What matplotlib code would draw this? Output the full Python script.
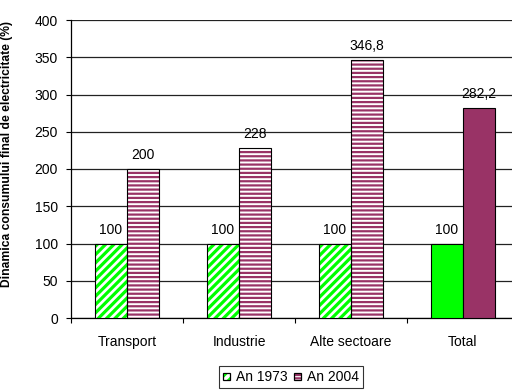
import matplotlib
matplotlib.use("Agg")
import matplotlib.pyplot as plt
import numpy as np
from matplotlib.patches import Patch, Rectangle
from matplotlib.legend_handler import HandlerBase

plt.rcParams['font.family'] = ['Liberation Sans', 'DejaVu Sans']
plt.rcParams['hatch.linewidth'] = 1.6

categories = ["Transport", "Industrie", "Alte sectoare", "Total"]
an_1973 = [100, 100, 100, 100]
an_2004 = [200, 228, 346.8, 282.2]
labels_1973 = ["100", "100", "100", "100"]
labels_2004 = ["200", "228", "346,8", "282,2"]
series_names = ["An 1973", "An 2004"]
y_ticks = [0, 50, 100, 150, 200, 250, 300, 350, 400]

green = "#00FF00"
plum = "#993366"
FS = 10


def set_hlw(artists, lw):
    for a in artists:
        if hasattr(a, "set_hatch_linewidth"):
            a.set_hatch_linewidth(lw)


class HatchKey(HandlerBase):
    """Legend key: a hatched square with a black outline on top."""

    def create_artists(self, legend, orig_handle, xdescent, ydescent, width,
                       height, fontsize, trans):
        size = min(width, height)
        x0 = -xdescent + (width - size) / 2
        y0 = -ydescent + (height - size) / 2
        fill = Rectangle((x0, y0), size, size, facecolor="white",
                         edgecolor=orig_handle.get_edgecolor(),
                         hatch=orig_handle.get_hatch(), linewidth=0,
                         transform=trans)
        outline = Rectangle((x0, y0), size, size, fill=False,
                            edgecolor="black", linewidth=0.9, transform=trans)
        return [fill, outline]


fig = plt.figure(figsize=(5.12, 3.92), dpi=100)
ax = fig.add_axes([71 / 512, 74 / 392, 448 / 512, 298 / 392])

x = np.arange(len(categories))
w = 0.2857

for i in range(len(categories)):
    hatched = i < len(categories) - 1
    if hatched:
        b = ax.bar(x[i] - w / 2, an_1973[i], w, color="white", edgecolor=green,
                   hatch="////", linewidth=0, zorder=3)
        set_hlw(b, 2.3)
        ax.bar(x[i] - w / 2, an_1973[i], w, fill=False, edgecolor="black",
               linewidth=0.8, zorder=4)
        b = ax.bar(x[i] + w / 2, an_2004[i], w, color="white", edgecolor=plum,
                   hatch="----", linewidth=0, zorder=3)
        set_hlw(b, 1.6)
        ax.bar(x[i] + w / 2, an_2004[i], w, fill=False, edgecolor="black",
               linewidth=0.8, zorder=4)
    else:
        ax.bar(x[i] - w / 2, an_1973[i], w, color=green, edgecolor="black",
               linewidth=0.8, zorder=3)
        ax.bar(x[i] + w / 2, an_2004[i], w, color=plum, edgecolor="black",
               linewidth=0.8, zorder=3)
    ax.annotate(labels_1973[i], (x[i] - w / 2, an_1973[i]), xytext=(0, 5),
                textcoords="offset points", ha="center", va="bottom", fontsize=FS)
    ax.annotate(labels_2004[i], (x[i] + w / 2, an_2004[i]), xytext=(0, 5),
                textcoords="offset points", ha="center", va="bottom", fontsize=FS)

ax.set_xlim(-0.5, len(categories) - 0.5)
ax.set_ylim(0, 400)
ax.set_yticks(y_ticks)
ax.set_yticklabels([str(t) for t in y_ticks], fontsize=FS)
ax.yaxis.grid(True, color="#222222", linewidth=0.9)
ax.set_axisbelow(True)

ax.set_xticks(x)
ax.set_xticklabels(categories, fontsize=FS)
ax.tick_params(axis="x", which="major", length=0, pad=12)
ax.set_xticks(np.arange(-0.5, len(categories) - 0.5, 1), minor=True)
ax.tick_params(axis="x", which="minor", length=3.5, width=0.8, direction="out")
ax.tick_params(axis="y", length=3.5, width=0.8, pad=6)

for s in ["top", "right"]:
    ax.spines[s].set_visible(False)
ax.spines["left"].set_linewidth(0.9)
ax.spines["bottom"].set_linewidth(0.9)

ax.set_ylabel("Dinamica consumului final de electricitate (%)", fontsize=8.7,
              fontweight="bold")
ax.yaxis.set_label_coords(-0.129, 0.55)

h1 = Patch(facecolor="white", edgecolor=green, hatch="////")
h2 = Patch(facecolor="white", edgecolor=plum, hatch="-----")
leg = fig.legend([h1, h2], series_names, loc="center",
                 bbox_to_anchor=(291 / 512, 1 - 377 / 392),
                 handler_map={Patch: HatchKey()},
                 ncol=2, fontsize=FS, frameon=True, fancybox=False,
                 handlelength=0.5, handleheight=0.5, handletextpad=0.4,
                 columnspacing=0.5, borderpad=0.3, borderaxespad=0,
                 edgecolor="black")
leg.get_frame().set_linewidth(0.8)

fig.savefig("out.png", dpi=100)
